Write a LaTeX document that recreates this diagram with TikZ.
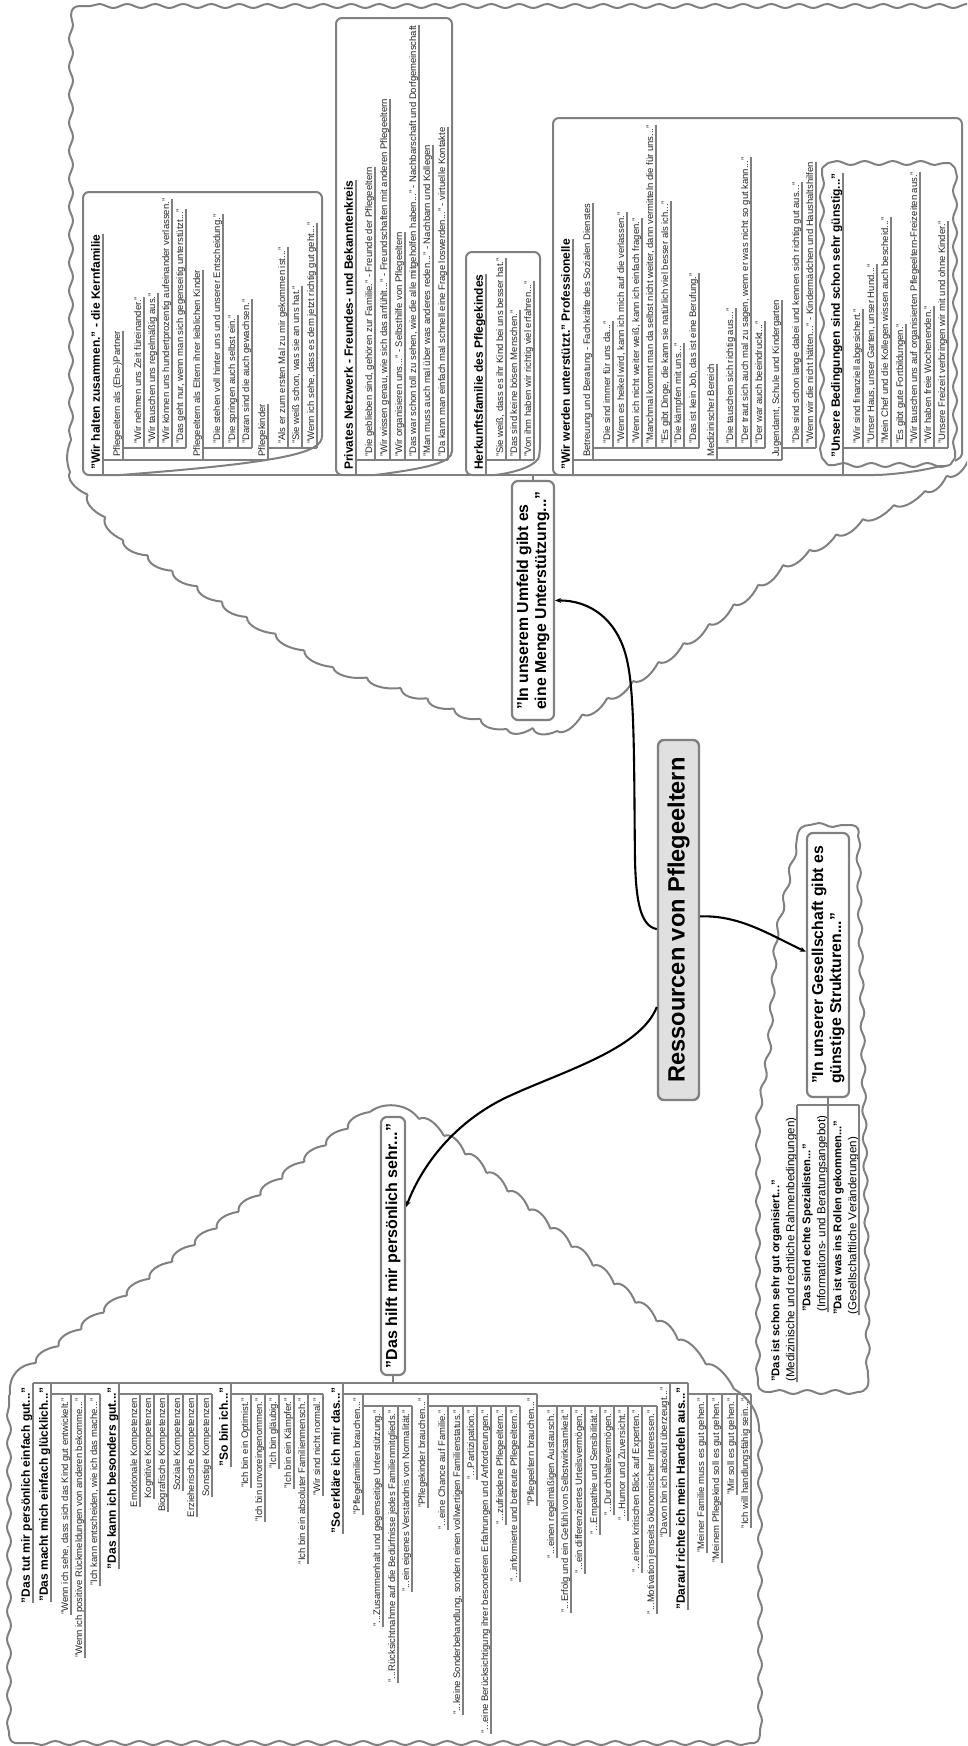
\documentclass[tikz,border=0pt]{standalone}
\usepackage{fontspec}
\setmainfont{Liberation Sans}
\usetikzlibrary{arrows.meta,decorations.pathmorphing,calc}
\definecolor{gr}{HTML}{808080}
\definecolor{ink}{HTML}{262626}
\tikzset{
 every node/.style={text=black},
 tx/.style={rotate=90,inner sep=0pt},
 sm/.style={font=\fontsize{9.5}{11}\selectfont,text=ink,text height=7.5pt,text depth=2.6pt},
 hd/.style={font=\fontsize{12}{14}\selectfont\bfseries,text height=9pt,text depth=3pt},
 ul/.style={draw=gr,line width=2pt},
 frame/.style={draw=gr,line width=2pt,rounded corners=6pt,line join=round},
 wav/.style={draw=gr,line width=2pt,line join=round,decorate,decoration={snake,amplitude=2pt,segment length=28pt}},
 plain/.style={draw=gr,line width=2pt,line join=round},
 topic/.style={rotate=90,draw=gr,line width=2.2pt,rounded corners=6pt,fill=white,inner sep=0pt,align=left,
   font=\fontsize{15.8}{18}\selectfont\bfseries},
 conn/.style={draw=black,line width=2.1pt,-{Stealth[length=6pt,width=5pt]}},
}
\newcommand{\sL}[6]{\node[tx,#5,anchor=south west] (#1) at (#2,#3) {#6};
 \draw[ul] (#1.south east) -- (#1.south west) -- (#1.south west |- 0,#4);}
\newcommand{\sR}[6]{\node[tx,#5,anchor=south east] (#1) at (#2,#3) {#6};
 \draw[ul] (#1.south west) -- (#1.south east) -- (#1.south east |- 0,#4);}
\newcommand{\dbl}[6]{\node[tx,anchor=south west,align=left,font=\fontsize{11.6}{15}\selectfont] (#1) at (#2,#3) {{\fontsize{11.2}{15}\selectfont\bfseries #5}\\#6};
 \draw[ul] (#1.south east) -- (#1.south west) -- (#1.south west |- 0,#4);}
% scallops from (x1,y1) to (x2,y2): n arcs, bulge h to the left of the travel direction on screen
\newcommand{\scal}[6]{%
 \pgfmathsetmacro{\sclen}{veclen(#3-#1,#4-#2)}%
 \pgfmathsetmacro{\scnx}{(#4-#2)/\sclen*#6}%
 \pgfmathsetmacro{\scny}{-(#3-#1)/\sclen*#6}%
 \pgfmathsetmacro{\scdx}{(#3-#1)/#5}%
 \pgfmathsetmacro{\scdy}{(#4-#2)/#5}%
 \foreach \scI in {1,...,#5}{%
  \pgfmathsetmacro{\scAx}{#1+(\scI-1)*\scdx}%
  \pgfmathsetmacro{\scAy}{#2+(\scI-1)*\scdy}%
  \draw[plain] (\scAx,\scAy) .. controls (\scAx+0.1*\scdx+\scnx,\scAy+0.1*\scdy+\scny)
     and (\scAx+0.55*\scdx+\scnx,\scAy+0.55*\scdy+\scny) .. (\scAx+\scdx,\scAy+\scdy);
 }}
\begin{document}
\begin{tikzpicture}[x=1pt,y=-1pt]
\useasboundingbox (0,0) rectangle (967,1746);
\clip (0,0) rectangle (967,1746);
% ---------- top cloud
\draw[wav] (990,6) -- (80,6);
\draw[plain] (80,6) .. controls (74,6) and (71,9) .. (71,16);
\draw[wav] (71,16) -- (71,440);
\draw[plain] (71,440) .. controls (66,452) and (66,462) .. (70,472);
\scal{70}{472}{123}{540}{3}{-7}
\scal{123}{540}{247}{617}{5}{-7}
\scal{247}{617}{333}{667}{3}{-7}
\scal{333}{667}{401}{688}{2}{-7}
\scal{401}{688}{507}{729}{4}{-7}
\scal{507}{729}{533}{728}{1}{-7}
\scal{533}{728}{557}{731}{1}{-7}
\scal{557}{731}{633}{681}{3}{-7}
\scal{633}{681}{709}{624}{3}{-7}
\scal{709}{624}{783}{565}{3}{-7}
\scal{783}{565}{863}{519}{3}{-7}
\scal{863}{519}{925}{491}{2}{-7}
\scal{925}{491}{990}{445}{3}{-7}
% ---------- lower cloud
\draw[plain] (10,1395) .. controls (8,1375) and (20,1364) .. (36,1363);
\scal{36}{1363}{195}{1245}{7}{7}
\scal{195}{1245}{370}{1112}{8}{7}
\draw[plain] (370,1112) .. controls (382,1102) and (407,1102) .. (419,1119);
\scal{419}{1119}{444}{1136}{1}{7}
\scal{444}{1136}{678}{1340}{11}{7}
\scal{678}{1340}{734}{1389}{2}{7}
\draw[plain] (734,1389) .. controls (750,1398) and (760,1415) .. (759,1432);
\draw[wav] (760,1432) -- (760,1732);
\draw[plain] (760,1732) .. controls (760,1741) and (757,1744) .. (750,1743);
\draw[wav] (750,1743) -- (20,1743);
\draw[plain] (20,1743) .. controls (12,1744) and (9,1741) .. (9,1732);
\draw[wav] (9,1732) -- (9,1395);
% ---------- small cloud
\draw[wav] (810,825) -- (852,825);
\draw[plain] (852,825) .. controls (858,826) and (860,830) .. (858,836);
\draw[wav] (858,836) -- (862,1000) -- (866,1200) -- (868,1376);
\draw[plain] (868,1376) .. controls (870,1386) and (866,1392) .. (858,1392);
\draw[wav] (858,1392) -- (768,1392);
\draw[plain] (768,1392) .. controls (760,1392) and (757,1388) .. (758,1378);
\draw[wav] (758,1378) -- (758,1127) -- (770,1053) -- (777,942) -- (793,868) -- (797,838);
\draw[plain] (797,838) .. controls (798,828) and (803,825) .. (810,825);
% ---------- frames of the top tree
\draw[frame] (120,475) -- (83,475) -- (83,192) -- (322,192) -- (322,430) .. controls (322,452) and (290,462) .. (120,475);
\draw[frame] (375,475) -- (336,475) -- (336,18) -- (452,18) -- (452,445) .. controls (452,462) and (430,468) .. (375,475);
\draw[frame] (495,475) -- (466,475) -- (466,252) -- (540,252) -- (540,450) .. controls (538,464) and (520,472) .. (495,475);
\draw[frame] (600,475) -- (553,475) -- (553,118) -- (962,118) -- (962,448) .. controls (962,462) and (930,471) .. (880,475) -- (600,475);
% Unsere cloud
\draw[fill=white,draw=none] (822,163) rectangle (955,465);
\draw[wav] (828,163) -- (950,163);
\draw[wav] (955,168) -- (955,458);
\draw[wav] (950,465) -- (828,465);
\draw[wav] (822,458) -- (822,168);
\draw[plain] (822,168) -- (828,163) (950,163) -- (955,168) (955,458) -- (950,465) (828,465) -- (822,458);
% ---------- top tree
\node[topic,minimum width=239pt,minimum height=42pt] (umfeld) at (533,600.5) {"In unserem Umfeld gibt es\\eine Menge Unterstützung..."};
\sL{a}{103}{470}{475}{hd}{"Wir halten zusammen." - die Kernfamilie}
\sL{a1}{123}{457}{460}{sm}{Pflegeeltern als (Ehe-)Partner}
\sL{a11}{144}{444}{448}{sm}{"Wir nehmen uns Zeit füreinander."}
\sL{a12}{158}{444}{448}{sm}{"Wir tauschen uns regelmäßig aus."}
\sL{a13}{172}{444}{448}{sm}{"Wir können uns hundertprozentig aufeinander verlassen."}
\sL{a14}{186}{444}{448}{sm}{"Das geht nur, wenn man sich gegenseitig unterstützt..."}
\sL{a2}{203}{457}{460}{sm}{Pflegeeltern als Eltern ihrer leiblichen Kinder}
\sL{a21}{223}{444}{448}{sm}{"Die stehen voll hinter uns und unserer Entscheidung."}
\sL{a22}{238}{444}{448}{sm}{"Die springen auch selbst ein."}
\sL{a23}{252}{444}{448}{sm}{"Daran sind die auch gewachsen."}
\sL{a3}{268}{457}{460}{sm}{Pflegekinder}
\sL{a31}{288}{444}{448}{sm}{"Als er zum ersten Mal zu mir gekommen ist..."}
\sL{a32}{302}{444}{448}{sm}{"Sie weiß schon, was sie an uns hat."}
\sL{a33}{317}{444}{448}{sm}{"Wenn ich sehe, dass es dem jetzt richtig gut geht..."}
\sL{b}{356}{470}{475}{hd}{Privates Netzwerk - Freundes- und Bekanntenkreis}
\sL{b1}{375}{457}{460}{sm}{"Die geblieben sind, gehören zur Familie." - Freunde der Pflegeeltern}
\sL{b2}{390}{457}{460}{sm}{"Wir wissen genau, wie sich das anfühlt..." - Freundschaften mit anderen Pflegeeltern}
\sL{b3}{405}{457}{460}{sm}{"Wir organisieren uns..." - Selbsthilfe von Pflegeeltern}
\sL{b4}{419}{457}{460}{sm}{"Das war schon toll zu sehen, wie die alle mitgeholfen haben..." - Nachbarschaft und Dorfgemeinschaft}
\sL{b5}{433}{457}{460}{sm}{"Man muss auch mal über was anderes reden..." - Nachbarn und Kollegen}
\sL{b6}{448}{457}{460}{sm}{"Da kann man einfach mal schnell eine Frage loswerden..." - virtuelle Kontakte}
\sL{c}{486}{470}{475}{hd}{Herkunftsfamilie des Pflegekindes}
\sL{c1}{506}{457}{460}{sm}{"Sie weiß, dass es ihr Kind bei uns besser hat."}
\sL{c2}{520}{457}{460}{sm}{"Das sind keine bösen Menschen."}
\sL{c3}{534}{457}{460}{sm}{"Von ihm haben wir richtig viel erfahren..."}
\sL{d}{573}{470}{475}{hd}{"Wir werden unterstützt." Professionelle}
\sL{d1}{593}{457}{460}{sm}{Betreuung und Beratung - Fachkräfte des Sozialen Dienstes}
\sL{d11}{613}{444}{448}{sm}{"Die sind immer für uns da..."}
\sL{d12}{627}{444}{448}{sm}{"Wenn es heikel wird, kann ich mich auf die verlassen."}
\sL{d13}{642}{444}{448}{sm}{"Wenn ich nicht weiter weiß, kann ich einfach fragen."}
\sL{d14}{656}{444}{448}{sm}{"Manchmal kommt man da selbst nicht weiter, dann vermitteln die für uns..."}
\sL{d15}{671}{444}{448}{sm}{"Es gibt Dinge, die kann sie natürlich viel besser als ich..."}
\sL{d16}{684}{444}{448}{sm}{"Die kämpfen mit uns..."}
\sL{d17}{699}{444}{448}{sm}{"Das ist kein Job, das ist eine Berufung."}
\sL{d2}{717}{457}{460}{sm}{Medizinischer Bereich}
\sL{d21}{736}{444}{448}{sm}{"Die tauschen sich richtig aus..."}
\sL{d22}{751}{444}{448}{sm}{"Der traut sich auch mal zu sagen, wenn er was nicht so gut kann..."}
\sL{d23}{765}{444}{448}{sm}{"Der war auch beeindruckt..."}
\sL{d3}{782}{457}{460}{sm}{Jugendamt, Schule und Kindergarten}
\sL{d31}{802}{444}{448}{sm}{"Die sind schon lange dabei und kennen sich richtig gut aus..."}
\sL{d32}{816}{444}{448}{sm}{"Wenn wir die nicht hätten..." - Kindermädchen und Haushaltshilfen}
\sL{e}{843}{458}{475}{hd}{"Unsere Bedingungen sind schon sehr günstig..."}
\sL{e1}{863}{444}{448}{sm}{"Wir sind finanziell abgesichert."}
\sL{e2}{877}{444}{448}{sm}{"Unser Haus, unser Garten, unser Hund..."}
\sL{e3}{891}{444}{448}{sm}{"Mein Chef und die Kollegen wissen auch bescheid..."}
\sL{e4}{906}{444}{448}{sm}{"Es gibt gute Fortbildungen."}
\sL{e5}{920}{444}{448}{sm}{"Wir tauschen uns auf organisierten Pflegeeltern-Freizeiten aus."}
\sL{e6}{934}{444}{448}{sm}{"Wir haben freie Wochenenden."}
\sL{e7}{948}{444}{448}{sm}{"Unsere Freizeit verbringen wir mit und ohne Kinder."}
% bars
\draw[ul] (a.south west |- 0,475) -- (e.south west |- 0,475);
\draw[ul] (umfeld.east) -- (umfeld.east |- 0,475);
\draw[ul] (a.south west |- 0,460) -- (a3.south west |- 0,460);
\draw[ul] (a1.south west |- 0,448) -- (a14.south west |- 0,448);
\draw[ul] (a2.south west |- 0,448) -- (a23.south west |- 0,448);
\draw[ul] (a3.south west |- 0,448) -- (a33.south west |- 0,448);
\draw[ul] (b.south west |- 0,460) -- (b6.south west |- 0,460);
\draw[ul] (c.south west |- 0,460) -- (c3.south west |- 0,460);
\draw[ul] (d.south west |- 0,460) -- (d3.south west |- 0,460);
\draw[ul] (d1.south west |- 0,448) -- (d17.south west |- 0,448);
\draw[ul] (d2.south west |- 0,448) -- (d23.south west |- 0,448);
\draw[ul] (d3.south west |- 0,448) -- (d32.south west |- 0,448);
\draw[ul] (e.south west |- 0,448) -- (e7.south west |- 0,448);
% ---------- lower tree
\node[topic,minimum width=258pt,minimum height=24pt,font=\fontsize{16}{18}\selectfont\bfseries] (hilft) at (393,1246) {"Das hilft mir persönlich sehr..."};
\sR{p}{33}{1387}{1383}{hd}{"Das tut mir persönlich einfach gut..."}
\sR{q}{51}{1387}{1383}{hd}{"Das macht mich einfach glücklich..."}
\sR{q1}{71}{1398}{1394}{sm}{"Wenn ich sehe, dass sich das Kind gut entwickelt."}
\sR{q2}{85}{1398}{1394}{sm}{"Wenn ich positive Rückmeldungen von anderen bekomme..."}
\sR{q3}{100}{1398}{1394}{sm}{"Ich kann entscheiden, wie ich das mache..."}
\sR{r}{119}{1387}{1383}{hd}{"Das kann ich besonders gut..."}
\sR{r1}{140}{1398}{1394}{sm}{Emotionale Kompetenzen}
\sR{r2}{154}{1398}{1394}{sm}{Kognitive Kompetenzen}
\sR{r3}{168}{1398}{1394}{sm}{Biografische Kompetenzen}
\sR{r4}{183}{1398}{1394}{sm}{Soziale Kompetenzen}
\sR{r5}{197}{1398}{1394}{sm}{Erzieherische Kompetenzen}
\sR{r6}{212}{1398}{1394}{sm}{Sonstige Kompetenzen}
\sR{s}{231}{1387}{1383}{hd}{"So bin ich..."}
\sR{s1}{251}{1398}{1394}{sm}{"Ich bin ein Optimist."}
\sR{s2}{265}{1398}{1394}{sm}{"Ich bin unvoreingenommen."}
\sR{s3}{279}{1398}{1394}{sm}{"Ich bin gläubig."}
\sR{s4}{294}{1398}{1394}{sm}{"Ich bin ein Kämpfer."}
\sR{s5}{308}{1398}{1394}{sm}{"Ich bin ein absoluter Familienmensch."}
\sR{s6}{323}{1398}{1394}{sm}{"Wir sind nicht normal."}
\sR{t}{343}{1387}{1383}{hd}{"So erkläre ich mir das..."}
\sR{t1}{363}{1398}{1394}{sm}{"Pflegefamilien brauchen..."}
\sR{t11}{383}{1410}{1406}{sm}{"...Zusammenhalt und gegenseitige Unterstützung."}
\sR{t12}{398}{1410}{1406}{sm}{"...Rücksichtnahme auf die Bedürfnisse jedes Familienmitglieds."}
\sR{t13}{412}{1410}{1406}{sm}{"...ein eigenes Verständnis von Normalität."}
\sR{t2}{428}{1398}{1394}{sm}{"Pflegekinder brauchen..."}
\sR{t21}{448}{1410}{1406}{sm}{"...eine Chance auf Familie."}
\sR{t22}{463}{1410}{1406}{sm}{"...keine Sonderbehandlung, sondern einen vollwertigen Familienstatus."}
\sR{t23}{477}{1410}{1406}{sm}{"...Partizipation."}
\sR{t24}{491}{1410}{1406}{sm}{"...eine Berücksichtigung ihrer besonderen Erfahrungen und Anforderungen."}
\sR{t25}{506}{1410}{1406}{sm}{"...zufriedene Pflegeeltern."}
\sR{t26}{520}{1410}{1406}{sm}{"...informierte und betreute Pflegeeltern."}
\sR{t3}{537}{1398}{1394}{sm}{"Pflegeeltern brauchen..."}
\sR{t31}{557}{1410}{1406}{sm}{"...einen regelmäßigen Austausch."}
\sR{t32}{571}{1410}{1406}{sm}{"...Erfolg und ein Gefühl von Selbstwirksamkeit."}
\sR{t33}{585}{1410}{1406}{sm}{"...ein differenziertes Urteilsvermögen."}
\sR{t34}{600}{1410}{1406}{sm}{"...Empathie und Sensibilität."}
\sR{t35}{614}{1410}{1406}{sm}{"...Durchhaltevermögen."}
\sR{t36}{628}{1410}{1406}{sm}{"...Humor und Zuversicht."}
\sR{t37}{642}{1410}{1406}{sm}{"...einen kritischen Blick auf Experten."}
\sR{t38}{657}{1410}{1406}{sm}{"...Motivation jenseits ökonomischer Interessen."}
\sR{u}{670}{1387}{1383}{sm}{"Davon bin ich absolut überzeugt..."}
\sR{v}{688}{1387}{1383}{hd}{"Darauf richte ich mein Handeln aus..."}
\sR{v1}{707}{1398}{1394}{sm}{"Meiner Familie muss es gut gehen."}
\sR{v2}{722}{1398}{1394}{sm}{"Meinem Pflegekind soll es gut gehen."}
\sR{v3}{737}{1398}{1394}{sm}{"Mir soll es gut gehen."}
\sR{v4}{751}{1398}{1394}{sm}{"Ich will handlungsfähig sein..."}
\draw[ul] (p.south east |- 0,1383) -- (v.south east |- 0,1383);
\draw[ul] (hilft.west) -- (hilft.west |- 0,1383);
\draw[ul] (q.south east |- 0,1394) -- (q3.south east |- 0,1394);
\draw[ul] (r.south east |- 0,1394) -- (r6.south east |- 0,1394);
\draw[ul] (s.south east |- 0,1394) -- (s6.south east |- 0,1394);
\draw[ul] (t.south east |- 0,1394) -- (t3.south east |- 0,1394);
\draw[ul] (t1.south east |- 0,1406) -- (t13.south east |- 0,1406);
\draw[ul] (t2.south east |- 0,1406) -- (t26.south east |- 0,1406);
\draw[ul] (t3.south east |- 0,1406) -- (t38.south east |- 0,1406);
\draw[ul] (v.south east |- 0,1394) -- (v4.south east |- 0,1394);
% ---------- right small tree
\node[topic,minimum width=264pt,minimum height=42pt] (gesell) at (828,965) {"In unserer Gesellschaft gibt es\\günstige Strukturen..."};
\dbl{w}{797}{1382}{1105}{"Das ist schon sehr gut organisiert..."}{(Medizinische und rechtliche Rahmenbedingungen)}
\dbl{x}{828}{1312}{1105}{"Das sind echte Spezialisten..."}{(Informations- und Beratungsangebot)}
\dbl{y}{859}{1315}{1105}{"Da ist was ins Rollen gekommen..."}{(Gesellschaftliche Veränderungen)}
\draw[ul] (w.south west |- 0,1105) -- (y.south west |- 0,1105);
\draw[ul] (gesell.west) -- (gesell.west |- 0,1105);
% ---------- central topic and connectors
\node[rotate=90,draw=gr,line width=2.4pt,rounded corners=6pt,fill=black!12,inner sep=0pt,minimum width=360pt,minimum height=41pt,
  font=\fontsize{23.6}{26}\selectfont\bfseries] (main) at (678.5,920) {Ressourcen von Pflegeeltern};
\draw[conn] ($(main.north west)!0.475!(main.north east)$) .. controls (640,926) and (636,900) .. (635,860)
   .. controls (634,780) and (635,700) .. (628,665) .. controls (620,620) and (590,600) .. ($(umfeld.south west)!0.5!(umfeld.south east)$);
\draw[conn] ($(main.south west)!0.51!(main.south east)$) .. controls (740,915) and (770,935) .. ($(gesell.north west)!0.55!(gesell.north east)$);
\draw[conn] ($(main.north west)!0.26!(main.north east)$) .. controls (640,1050) and (560,1072) .. (505,1098)
   .. controls (450,1125) and (420,1170) .. ($(hilft.south west)!0.65!(hilft.south east)$);
\end{tikzpicture}
\end{document}
